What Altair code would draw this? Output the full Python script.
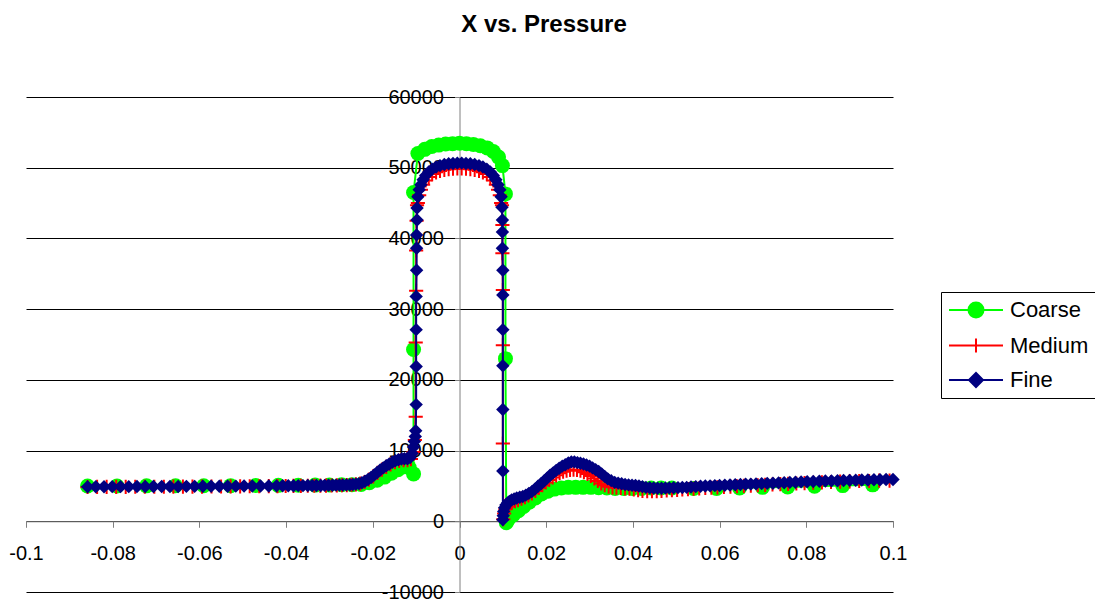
import altair as alt
import pandas as pd

series = ["Coarse", "Medium", "Fine"]
colors = ["#00FF00", "#FF0000", "#000080"]
x_ticks = [-0.1, -0.08, -0.06, -0.04, -0.02, 0, 0.02, 0.04, 0.06, 0.08, 0.1]
y_ticks = [-10000, 0, 10000, 20000, 30000, 40000, 50000, 60000]

# ---------------- Coarse ----------------
coarse_x = [-0.0858, -0.0790, -0.0722, -0.0655, -0.0590, -0.0528, -0.0470, -0.0418, -0.0372, -0.0333,
            -0.0300, -0.0272, -0.0248, -0.0227, -0.0208, -0.0190, -0.0173, -0.0157, -0.0142, -0.0128,
            -0.0116, -0.0106, -0.0106, -0.0106,
            -0.0096, -0.0080, -0.0064, -0.0048, -0.0032, -0.0016, 0.0000, 0.0016, 0.0032, 0.0048,
            0.0064, 0.0078, 0.0090, 0.0099,
            0.0106, 0.0106, 0.0108,
            0.0113, 0.0124, 0.0136, 0.0148, 0.0161, 0.0175, 0.0189, 0.0204, 0.0219, 0.0235,
            0.0251, 0.0268, 0.0285, 0.0303, 0.0321, 0.0340, 0.0359, 0.0379, 0.0399, 0.0420,
            0.0442, 0.0465, 0.0490,
            0.0540, 0.0593, 0.0646, 0.0699, 0.0757, 0.0819, 0.0884, 0.0953]
coarse_y = [5000, 5000, 5010, 5020, 5030, 5040, 5060, 5080, 5100, 5120,
            5140, 5160, 5180, 5200, 5450, 5800, 6250, 6800, 7300, 7700,
            7600, 6700, 24300, 46500,
            52000, 52600, 53000, 53200, 53350, 53400, 53450, 53400, 53300, 53100,
            52800, 52300, 51500, 50300,
            46300, 23000, -200,
            300, 900, 1500, 2100, 2700, 3300, 3850, 4250, 4550, 4700,
            4800, 4800, 4800, 4800, 4750, 4700, 4650, 4650, 4650, 4650,
            4700, 4700, 4700,
            4650, 4650, 4700, 4800, 4850, 4950, 5050, 5150]

# ---------------- Medium ----------------
medium_x_left = [-0.0858, -0.0836, -0.0814, -0.0792, -0.0770, -0.0748, -0.0726, -0.0704, -0.0682, -0.0660,
                 -0.0638, -0.0616, -0.0594, -0.0572, -0.0550, -0.0528, -0.0506, -0.0484, -0.0462, -0.0440,
                 -0.0420, -0.0401, -0.0383, -0.0366, -0.0350, -0.0335, -0.0321, -0.0308, -0.0295, -0.0283,
                 -0.0271, -0.0260, -0.0249, -0.0239, -0.0229, -0.0219, -0.0209, -0.0199, -0.0189, -0.0179,
                 -0.0169, -0.0159, -0.0149, -0.0139, -0.0129, -0.0120, -0.0112, -0.0106, -0.0103, -0.0101,
                 -0.0101, -0.0100, -0.0100, -0.0099, -0.0098]
medium_y_left = [4850, 4860, 4860, 4870, 4870, 4880, 4880, 4890, 4890, 4900,
                 4900, 4910, 4910, 4920, 4920, 4930, 4940, 4950, 4960, 4970,
                 4980, 4990, 5000, 5010, 5020, 5030, 5040, 5050, 5060, 5080,
                 5100, 5120, 5160, 5220, 5320, 5550, 5900, 6350, 6850, 7300,
                 7700, 8050, 8350, 8550, 8650, 8650, 8800, 9800, 11500, 14800,
                 25300, 32600, 38300, 42500, 44700]
medium_x_arc = [-0.0096, -0.0093, -0.0089, -0.0084, -0.0078, -0.0071, -0.0063, -0.0054, -0.0045, -0.0035,
                -0.0025, -0.0015, -0.0005, 0.0005, 0.0015, 0.0025, 0.0035, 0.0045, 0.0054, 0.0063,
                0.0071, 0.0078, 0.0084, 0.0089, 0.0093, 0.0096]
medium_y_arc = [45000, 46100, 46900, 47600, 48200, 48700, 49100, 49350, 49550, 49700,
                49800, 49850, 49900, 49900, 49850, 49800, 49700, 49550, 49350, 49100,
                48700, 48200, 47600, 46900, 46100, 45000]
medium_x_right = [0.0098, 0.0099, 0.0099, 0.0100, 0.0100, 0.0100, 0.0101, 0.0103, 0.0106, 0.0110,
                  0.0115, 0.0121, 0.0128, 0.0135, 0.0143, 0.0151, 0.0159, 0.0167, 0.0175, 0.0183,
                  0.0191, 0.0199, 0.0207, 0.0215, 0.0223, 0.0231, 0.0239, 0.0247, 0.0255, 0.0263,
                  0.0271, 0.0279, 0.0287, 0.0295, 0.0303, 0.0311, 0.0319, 0.0327, 0.0335, 0.0344,
                  0.0353, 0.0362, 0.0372, 0.0382, 0.0392, 0.0402, 0.0412, 0.0422, 0.0433, 0.0444,
                  0.0455, 0.0466, 0.0478, 0.0490, 0.0502, 0.0514, 0.0527, 0.0540, 0.0553, 0.0567,
                  0.0581, 0.0595, 0.0610, 0.0625, 0.0640, 0.0656, 0.0672, 0.0688, 0.0705, 0.0722,
                  0.0740, 0.0758, 0.0777, 0.0796, 0.0816, 0.0836, 0.0857, 0.0878, 0.0900, 0.0922,
                  0.0945, 0.0968, 0.0992]
medium_y_right = [44700, 41900, 37900, 32700, 24900, 11000, 300, 1100, 1700, 2100,
                  2400, 2650, 2850, 3000, 3200, 3400, 3650, 3950, 4300, 4700,
                  5100, 5500, 5850, 6200, 6500, 6800, 7000, 7150, 7250, 7300,
                  7250, 7150, 6950, 6700, 6400, 6050, 5700, 5350, 5100, 4900,
                  4800, 4750, 4700, 4650, 4600, 4500, 4400, 4300, 4250, 4250,
                  4250, 4300, 4350, 4400, 4450, 4500, 4550, 4600, 4650, 4700,
                  4750, 4800, 4850, 4900, 4950, 5000, 5050, 5100, 5150, 5200,
                  5250, 5300, 5350, 5400, 5450, 5500, 5550, 5600, 5650, 5700,
                  5700, 5750, 5750]

# ---------------- Fine ----------------
fine_x_left = [-0.0858, -0.0839, -0.0820, -0.0801, -0.0782, -0.0763, -0.0744, -0.0725, -0.0706, -0.0687,
               -0.0668, -0.0649, -0.0630, -0.0611, -0.0592, -0.0573, -0.0554, -0.0535, -0.0516, -0.0497,
               -0.0478, -0.0459, -0.0440, -0.0422,
               -0.0408, -0.0395, -0.0383, -0.0372, -0.0361, -0.0350, -0.0340, -0.0330, -0.0320, -0.0311,
               -0.0302, -0.0293, -0.0285, -0.0277, -0.0269, -0.0261, -0.0253, -0.0246, -0.0239, -0.0232,
               -0.0225, -0.0218, -0.0211, -0.0204, -0.0197, -0.0190, -0.0183, -0.0176, -0.0169, -0.0162,
               -0.0155, -0.0148, -0.0141,
               -0.0134, -0.0127, -0.0120, -0.0114, -0.0109, -0.0106, -0.0104, -0.0102, -0.0101,
               -0.0100, -0.0100, -0.0100, -0.0100, -0.0099, -0.0099, -0.0099, -0.0098, -0.0098]
fine_y_left = [4880, 4890, 4890, 4900, 4900, 4900, 4910, 4910, 4920, 4920,
               4930, 4930, 4940, 4940, 4950, 4950, 4960, 4960, 4970, 4980,
               4990, 5000, 5000, 5010,
               5020, 5020, 5030, 5040, 5040, 5050, 5060, 5060, 5070, 5080,
               5090, 5100, 5110, 5120, 5130, 5150, 5170, 5200, 5250, 5330,
               5450, 5650, 5900, 6200, 6550, 6900, 7250, 7550, 7850, 8100,
               8350, 8550, 8700,
               8800, 8850, 8850, 9000, 9600, 10500, 11300, 12000, 12800,
               16500, 21900, 27100, 31800, 35500, 38600, 40500, 42600, 44300]
fine_x_arc = [-0.0096, -0.0093, -0.0089, -0.0084, -0.0078, -0.0071, -0.0063, -0.0054, -0.0045, -0.0035,
              -0.0025, -0.0015, -0.0005, 0.0005, 0.0015, 0.0025, 0.0035, 0.0045, 0.0054, 0.0063,
              0.0071, 0.0078, 0.0084, 0.0089, 0.0093, 0.0096]
fine_y_arc = [45900, 46900, 47600, 48300, 48900, 49400, 49800, 50100, 50300, 50450,
              50550, 50600, 50650, 50650, 50600, 50550, 50450, 50300, 50100, 49800,
              49400, 48900, 48300, 47600, 46900, 45900]
fine_x_right = [0.0098, 0.0099, 0.0099, 0.0099, 0.0100, 0.0100, 0.0100, 0.0100, 0.0100, 0.0100,
                0.0100, 0.0101, 0.0102, 0.0104, 0.0107, 0.0111, 0.0115, 0.0120, 0.0126, 0.0132,
                0.0139, 0.0146, 0.0153, 0.0160, 0.0167, 0.0174, 0.0181, 0.0188, 0.0195, 0.0202,
                0.0209, 0.0216, 0.0223, 0.0230, 0.0237, 0.0244, 0.0251, 0.0258, 0.0265, 0.0272,
                0.0279, 0.0286, 0.0293, 0.0300, 0.0307, 0.0314, 0.0321, 0.0328, 0.0335, 0.0342,
                0.0350, 0.0358, 0.0366, 0.0374, 0.0382, 0.0390, 0.0398, 0.0406, 0.0414, 0.0422,
                0.0430, 0.0439, 0.0448, 0.0457, 0.0466, 0.0475, 0.0484, 0.0494, 0.0504, 0.0514,
                0.0524, 0.0534, 0.0545, 0.0556, 0.0567, 0.0578, 0.0589, 0.0600, 0.0612, 0.0624,
                0.0636, 0.0648, 0.0660, 0.0672, 0.0684, 0.0697, 0.0710, 0.0723, 0.0736, 0.0749,
                0.0762, 0.0775, 0.0788, 0.0802, 0.0816, 0.0830, 0.0844, 0.0858, 0.0872, 0.0886,
                0.0900, 0.0914, 0.0928, 0.0942, 0.0956, 0.0970, 0.0984, 0.1000]
fine_y_right = [44400, 42600, 40900, 38600, 35500, 32000, 27100, 22000, 15800, 7100,
                200, 800, 1400, 1900, 2300, 2600, 2800, 3000, 3150, 3300,
                3400, 3500, 3700, 3950, 4200, 4550, 4950, 5300, 5700, 6100,
                6500, 6850, 7200, 7500, 7800, 8000, 8250, 8400, 8400, 8300,
                8200, 8100, 7950, 7800, 7550, 7300, 7050, 6700, 6350, 6000,
                5750, 5500, 5400, 5300, 5200, 5150, 5100, 5050, 5000, 4900,
                4800, 4750, 4700, 4680, 4680, 4700, 4720, 4740, 4760, 4780,
                4800, 4850, 4900, 4950, 4980, 5010, 5040, 5070, 5100, 5130,
                5170, 5200, 5230, 5260, 5290, 5320, 5360, 5390, 5430, 5460,
                5500, 5530, 5570, 5600, 5630, 5660, 5690, 5720, 5740, 5770,
                5790, 5810, 5830, 5850, 5870, 5880, 5900, 5920]

medium_x = medium_x_left + medium_x_arc + medium_x_right
medium_y = medium_y_left + medium_y_arc + medium_y_right
fine_x = fine_x_left + fine_x_arc + fine_x_right
fine_y = fine_y_left + fine_y_arc + fine_y_right


def frame(name, xs, ys):
    return pd.DataFrame({"x": xs, "y": ys, "series": name, "order": list(range(len(xs)))})


font = "Liberation Sans"
xscale = alt.Scale(domain=[-0.1, 0.1], nice=False, zero=False)
yscale = alt.Scale(domain=[-10000, 60000], nice=False, zero=False)

x_enc = alt.X("x:Q", scale=xscale, title=None,
              axis=alt.Axis(values=x_ticks, labelExpr="'' + datum.value", offset=-70.71,
                            grid=False, tickSize=6, labelPadding=16, domainColor="#808080",
                            tickColor="#808080", labelFlush=False, labelOverlap=False,
                            labelFontSize=20, labelFont=font, labelColor="#000000"))
y_enc = alt.Y("y:Q", scale=yscale, title=None,
              axis=alt.Axis(values=y_ticks, labelExpr="'' + datum.value", offset=-433.5,
                            grid=True, gridColor="#000000", gridWidth=1, gridOpacity=1,
                            tickSize=5, labelPadding=11, domainColor="#808080",
                            tickColor="#808080", labelOverlap=False,
                            labelFontSize=20, labelFont=font, labelColor="#000000"))

plus_path = "M-1,0L1,0M0,-1L0,1"
# legend glyphs: line with marker (unit = sqrt(symbolSize)/2 = 10 px)
legend_paths = [
    "M-1,0L4.4,0M2.45,0A0.75,0.75,0,1,1,0.95,0A0.75,0.75,0,1,1,2.45,0Z",
    "M-1,0L4.4,0M1.7,-0.7L1.7,0.7",
    "M-1,0L4.4,0M1.0,0L1.7,-0.7L2.4,0L1.7,0.7Z",
]

layers = []
specs = [
    ("Coarse", coarse_x, coarse_y, dict(shape="circle", filled=True, size=225)),
    ("Medium", medium_x, medium_y, dict(shape=plus_path, filled=False, size=200, strokeWidth=2)),
    ("Fine", fine_x, fine_y, dict(shape="diamond", filled=True, size=180)),
]
for (name, xs, ys, pt), col in zip(specs, colors):
    df = frame(name, xs, ys)
    base = alt.Chart(df).encode(x=x_enc, y=y_enc, order="order:Q")
    layers.append(base.mark_line(color=col, strokeWidth=2))
    layers.append(base.mark_point(color=col, opacity=1, **pt))

legend = alt.Legend(title=None, orient="none", legendX=915, legendY=195,
                    strokeColor="#000000", fillColor="#ffffff", padding=7,
                    symbolSize=400, symbolStrokeWidth=2, labelFontSize=22, labelFont=font,
                    labelColor="#000000", labelOffset=40, rowPadding=12.5, cornerRadius=0)
legend_df = pd.DataFrame({"series": series, "x": [1.0, 1.0, 1.0], "y": [0, 0, 0]})
legend_layer = alt.Chart(legend_df).mark_point(filled=True, opacity=1, clip=True, strokeWidth=2).encode(
    x=x_enc, y=y_enc,
    fill=alt.Fill("series:N", scale=alt.Scale(domain=series, range=colors), legend=legend, sort=series),
    stroke=alt.Stroke("series:N", scale=alt.Scale(domain=series, range=colors), legend=legend, sort=series),
    shape=alt.Shape("series:N", scale=alt.Scale(domain=series, range=legend_paths), legend=legend, sort=series),
)
layers.append(legend_layer)

chart = alt.layer(*layers).properties(
    width=867, height=495,
    padding={"left": 26, "top": 97, "right": 202, "bottom": 13},
    autosize=alt.AutoSizeParams(type="none"),
    title=alt.TitleParams("X vs. Pressure", fontSize=24, fontWeight="bold", font=font,
                          anchor="middle", frame="group", dx=84.5, offset=31,
                          baseline="alphabetic", color="#000000"),
    background="#ffffff",
).configure_view(strokeWidth=0)

chart.save("out.html", embed_options={"renderer": "svg", "actions": False})
